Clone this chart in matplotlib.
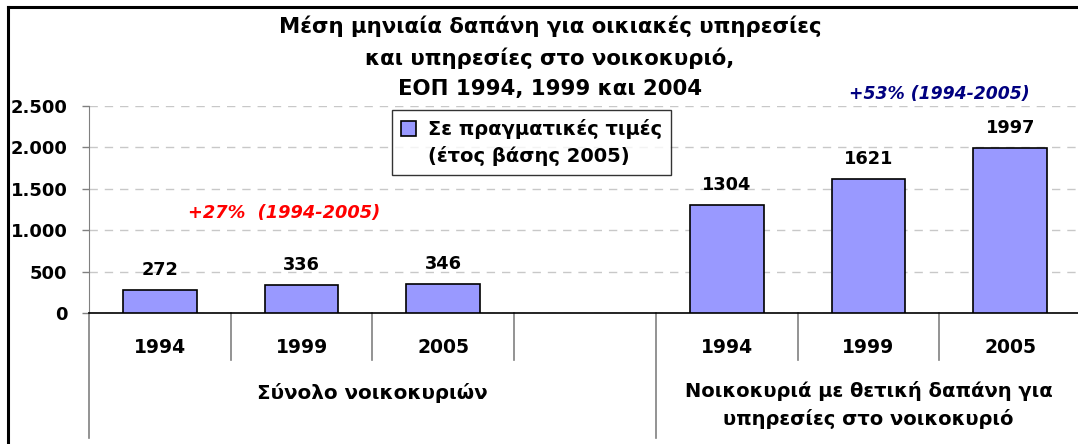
import numpy as np
import matplotlib.pyplot as plt
from matplotlib.ticker import FuncFormatter
from matplotlib.lines import Line2D

# Data
years = ["1994", "1999", "2005", "", "1994", "1999", "2005"]
values = [272, 336, 346, None, 1304, 1621, 1997]
groups = ["Σύνολο νοικοκυριών", "Νοικοκυριά με θετική δαπάνη για\nυπηρεσίες στο νοικοκυριό"]
legend_label = "Σε πραγματικές τιμές\n(έτος βάσης 2005)"
title = "Μέση μηνιαία δαπάνη για οικιακές υπηρεσίες\nκαι υπηρεσίες στο νοικοκυριό,\nΕΟΠ 1994, 1999 και 2004"
note_all = "+27%  (1994-2005)"
note_pos = "+53% (1994-2005)"

plt.rcParams["font.family"] = ["DejaVu Sans"]

fig = plt.figure(figsize=(10.78, 4.44), dpi=100)
ax = fig.add_axes([89 / 1078, 1 - 313 / 444, (1081 - 89) / 1078, 207 / 444])

x = np.arange(len(years))
bar_x = [xi for xi, v in zip(x, values) if v is not None]
bar_v = [v for v in values if v is not None]
ax.bar(bar_x, bar_v, width=0.52, color="#9999FF", edgecolor="black",
       linewidth=1.2, label=legend_label, zorder=3)

for xi, v in zip(bar_x, bar_v):
    ax.annotate(f"{v}", (xi, v), xytext=(0, 8), textcoords="offset points",
                ha="center", va="bottom", fontsize=12.8, fontweight="bold")

ax.set_xlim(-0.5, len(years) - 0.5)
ax.set_ylim(0, 2500)
ax.set_yticks(np.arange(0, 2501, 500))
ax.yaxis.set_major_formatter(FuncFormatter(lambda v, p: f"{int(v):,}".replace(",", ".")))
ax.tick_params(axis="y", length=5, width=1, color="#808080", pad=10.5, labelsize=13)
for lab in ax.get_yticklabels():
    lab.set_fontweight("bold")

ax.set_xticks(x)
ax.set_xticklabels(years, fontsize=13.5, fontweight="bold")
ax.tick_params(axis="x", length=0, pad=18)

ax.yaxis.grid(True, linestyle=(0, (6, 5)), color="#C8C8C8", linewidth=1)
ax.set_axisbelow(True)
for s in ["top", "right"]:
    ax.spines[s].set_visible(False)
ax.spines["left"].set_color("#808080")
ax.spines["bottom"].set_color("black")
ax.spines["bottom"].set_linewidth(1.2)

# category separators below the axis
trans = ax.get_xaxis_transform()
short_y = -47 / 207
long_y = -125 / 207
for b in np.arange(-0.5, len(years) - 0.5, 1.0):
    y_end = long_y if b in (-0.5, 3.5) else short_y
    ax.add_line(Line2D([b, b], [0, y_end], transform=trans, color="#808080",
                       linewidth=1.2, clip_on=False))

ax.text(1.5, -80 / 207, groups[0], transform=trans, ha="center", va="center",
        fontsize=14.3, fontweight="bold")
ax.text(5.0, -92 / 207, groups[1], transform=trans, ha="center", va="center",
        fontsize=14, fontweight="bold", linespacing=1.5)

ax.text(0.88, 1210, note_all, ha="center", va="center", color="#FF0000",
        fontsize=12.8, fontweight="bold", style="italic")
ax.text(5.5, 2650, note_pos, ha="center", va="center", color="#000080",
        fontsize=12.4, fontweight="bold", style="italic", clip_on=False)

leg = ax.legend(loc="upper left", bbox_to_anchor=((392 - 89) / 992, (313 - 110) / 207),
                borderaxespad=0, frameon=True, fancybox=False, edgecolor="black",
                handlelength=0.8, handleheight=0.8, handletextpad=0.6,
                borderpad=0.45, labelspacing=0.3, prop={"weight": "bold", "size": 14})
leg.get_frame().set_linewidth(1)
leg.get_texts()[0].set_linespacing(1.45)
# put the legend square next to the first text line, as in the original
handle = leg.legend_handles[0]
handle.set_y(handle.get_y() + 0.75 * 14)

fig.text(550 / 1078, 1 - 57 / 444, title, ha="center", va="center",
         fontsize=15.3, fontweight="bold", linespacing=1.6)

# outer chart frame (only top and left edges visible)
fig.add_artist(Line2D([8 / 1078, 8 / 1078], [0, 1 - 7 / 444], transform=fig.transFigure,
                      color="black", linewidth=2.2))
fig.add_artist(Line2D([8 / 1078, 1], [1 - 7 / 444, 1 - 7 / 444], transform=fig.transFigure,
                      color="black", linewidth=2.2))

fig.savefig("out.png", dpi=100, facecolor="white")
